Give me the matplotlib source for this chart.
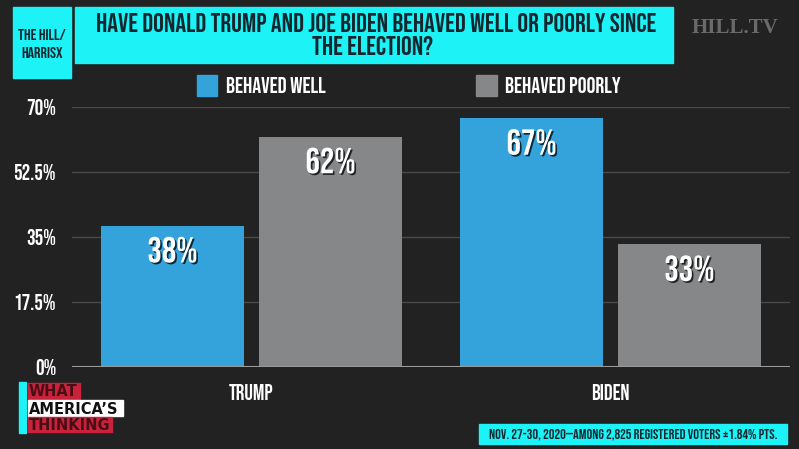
import matplotlib
matplotlib.use("Agg")
import matplotlib.pyplot as plt
import matplotlib.patheffects as pe
from matplotlib.patches import Rectangle
import numpy as np

categories = ["TRUMP", "BIDEN"]
series_names = ["BEHAVED WELL", "BEHAVED POORLY"]
behaved_well = [38, 67]
behaved_poorly = [62, 33]
yticks = [0, 17.5, 35, 52.5, 70]
ytick_labels = ["0%", "17.5%", "35%", "52.5%", "70%"]
title_lines = ["HAVE DONALD TRUMP AND JOE BIDEN BEHAVED WELL OR POORLY SINCE",
               "THE ELECTION?"]
source_text = "NOV. 27-30, 2020\u2014AMONG 2,825 REGISTERED VOTERS \u00b11.84% PTS."
logo_lines = ["WHAT", "AMERICA\u2019S", "THINKING"]

BG = "#222222"
BLUE = "#34A3DC"
GRAY = "#858789"
CYAN = "#1DF2F7"
DARK = "#14262E"
RED = "#C8233B"
COND = ["Bebas Neue", "Barlow Condensed", "DejaVu Sans"]
LOGO = ["DejaVu Sans"]

W, H = 799, 449
fig = plt.figure(figsize=(W / 100, H / 100), dpi=100, facecolor=BG)

def fx(px):
    return px / W

def fy(py):
    return 1 - py / H

def box(x0, y0, x1, y1, color):
    fig.patches.append(Rectangle((fx(x0), fy(y1)), fx(x1) - fx(x0), fy(y0) - fy(y1),
                                 transform=fig.transFigure, color=color, zorder=1))

def txt(xp, yp, s, **kw):
    kw.setdefault("va", "baseline")
    fig.text(fx(xp), fy(yp), s, **kw)

ax = fig.add_axes([fx(72), fy(367), fx(790) - fx(72), fy(107) - fy(367)])
ax.set_facecolor(BG)
x = np.arange(len(categories))
off = 0.22
bw = 0.398
b1 = ax.bar(x - off, behaved_well, bw, color=BLUE, zorder=3)
b2 = ax.bar(x + off, behaved_poorly, bw, color=GRAY, zorder=3)
ax.set_xlim(-0.5, 1.5)
ax.set_ylim(0, 70)
ax.set_yticks(yticks)
ax.set_yticklabels(ytick_labels)
ax.set_xticks(x)
ax.set_xticklabels(categories)
for s in ax.spines.values():
    s.set_visible(False)
ax.tick_params(axis="both", length=0, colors="white")
ax.tick_params(axis="y", pad=11.5)
ax.tick_params(axis="x", pad=12)
for lab in ax.get_yticklabels() + ax.get_xticklabels():
    lab.set_fontfamily(COND)
    lab.set_fontsize(15.5)
    lab.set_color("white")
ax.grid(axis="y", color="#4a4a4a", linewidth=1, zorder=0)
ax.axhline(0, color="#9a9a9a", linewidth=1.5, zorder=4)

shadow = [pe.withSimplePatchShadow(offset=(1.2, -1.2), shadow_rgbFace="black", alpha=0.75)]
for bars, vals in ((b1, behaved_well), (b2, behaved_poorly)):
    for rect, v in zip(bars, vals):
        ax.annotate(f"{v}%", (rect.get_x() + rect.get_width() / 2, v),
                    xytext=(0, -26.3), textcoords="offset points",
                    ha="center", va="baseline", color="white",
                    fontsize=26, family=COND, path_effects=shadow, zorder=5)

# Header boxes
box(13, 7, 71, 78, CYAN)
txt(42, 40, "THE HILL/", ha="center", fontsize=11.5, family=COND, color=DARK)
txt(42, 57.5, "HARRISX", ha="center", fontsize=11.5, family=COND, color=DARK)
box(75, 7, 673, 63, CYAN)
txt(376, 32, title_lines[0], ha="center", fontsize=19.3, family=COND, color=DARK)
txt(373, 55, title_lines[1], ha="center", fontsize=19.3, family=COND, color=DARK)
txt(735, 33, "HILL.TV", ha="center", fontsize=15, fontweight="bold",
    family=["Liberation Serif", "DejaVu Serif"], color="#6a6a6a")

# Legend
box(197, 75, 217, 96, BLUE)
txt(226, 93, series_names[0], ha="left", fontsize=16, family=COND, color="white")
box(476, 75, 497, 96, GRAY)
txt(505, 93, series_names[1], ha="left", fontsize=16, family=COND, color="white")

# Footer logo
box(19, 382, 26, 433, CYAN)
box(28, 383, 80, 399, RED)
box(28, 400, 123, 416, "white")
box(28, 417, 112, 432, RED)
txt(29, 396.5, logo_lines[0], ha="left", fontsize=10.5, fontweight="bold", family=LOGO, color="#4a0d16")
txt(29, 413.5, logo_lines[1], ha="left", fontsize=10.5, fontweight="bold", family=LOGO, color="#111111")
txt(29, 429.5, logo_lines[2], ha="left", fontsize=10.5, fontweight="bold", family=LOGO, color="#4a0d16")

# Source box
box(479, 424, 787, 444, CYAN)
txt(633, 439, source_text, ha="center", fontsize=10.3, family=COND, color=DARK)

fig.savefig("out.png", dpi=100, facecolor=BG)
